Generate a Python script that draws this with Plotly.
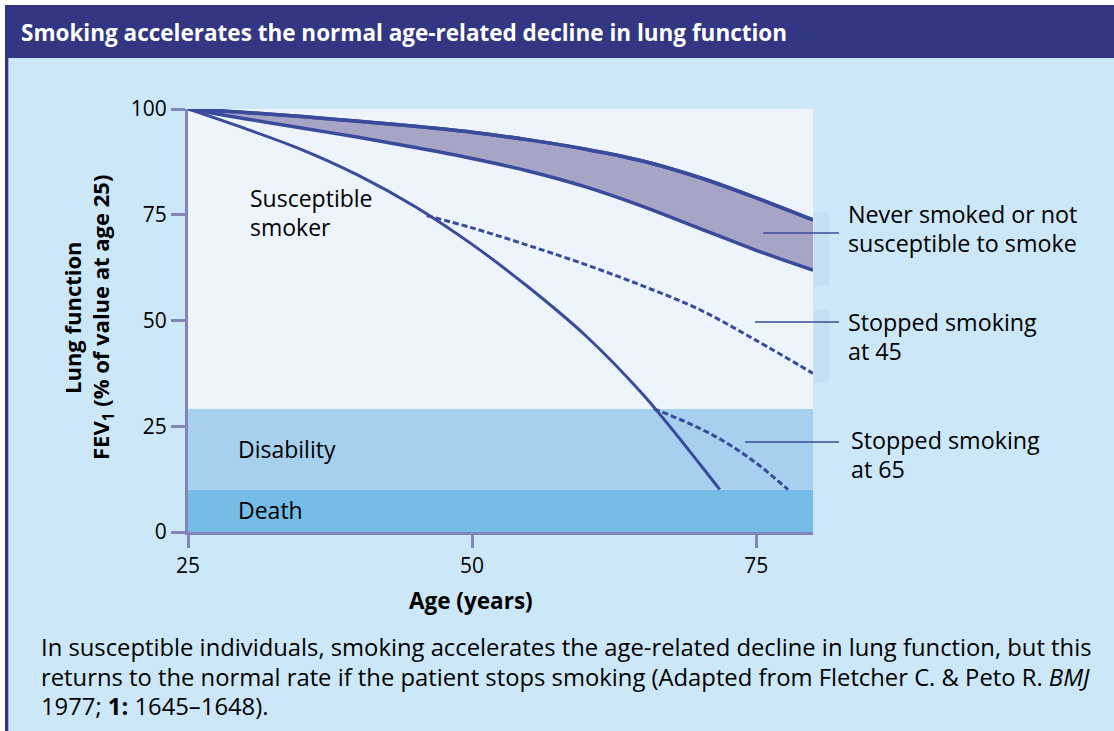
import plotly.graph_objects as go

# ---------------- data ----------------
ages_never = [25, 30, 35, 40, 45, 50, 55, 60, 65, 70, 75, 80]
never_upper = [100, 99.2, 98.2, 97.1, 95.9, 94.5, 92.7, 90.5, 87.7, 83.8, 79.0, 73.8]
never_lower = [100, 97.7, 95.5, 93.3, 90.9, 88.3, 85.3, 81.6, 77.0, 71.8, 66.6, 61.9]

ages_smoker = [25, 30, 35, 40, 45, 50, 55, 60, 65, 70, 71.8]
smoker = [100, 95.4, 90.4, 84.3, 76.9, 68.0, 57.8, 46.4, 32.6, 16.2, 10.0]

ages_stop45 = [46, 50, 55, 60, 65, 70, 75, 80]
stop45 = [74.8, 71.9, 67.7, 63.2, 58.2, 52.6, 45.3, 37.5]

ages_stop65 = [66, 69, 72, 75, 77.8]
stop65 = [29.1, 25.8, 21.7, 16.3, 10.0]

band_edges = [0, 10, 29.1, 100]          # death / disability / normal
band_names = ["Death", "Disability"]

x_ticks = [25, 50, 75]
y_ticks = [0, 25, 50, 75, 100]

title_text = "Smoking accelerates the normal age-related decline in lung function"
caption_lines = [
    "In susceptible individuals, smoking accelerates the age-related decline in lung function, but this",
    "returns to the normal rate if the patient stops smoking (Adapted from Fletcher C. &amp; Peto R. <i>BMJ</i>",
    "1977; <b>1:</b> 1645\u20131648).",
]

# ---------------- style ----------------
W, H = 1114, 731
L, R, T, B = 188, 813, 109, 532   # plot area in px
FONT = "Open Sans"
LINE = "#3b4b9c"
AXIS = "#8385b8"
PANEL = "#cce7f8"
HEADER = "#333683"
PLOTBG = "#eef4fc"
DIS = "#a6d0ee"
DEATH = "#75bce6"
BANDFILL = "#a7a5c6"


def px(xp):
    return (xp - L) / (R - L)


def py(yp):
    return (B - yp) / (B - T)


fig = go.Figure()

# never-smoked band
fig.add_trace(go.Scatter(x=ages_never, y=never_upper, mode="lines",
                         line=dict(color=LINE, width=3.5, shape="spline"), cliponaxis=False,
                         hoverinfo="skip"))
fig.add_trace(go.Scatter(x=ages_never, y=never_lower, mode="lines", fill="tonexty",
                         fillcolor=BANDFILL, line=dict(color=LINE, width=3.5, shape="spline"),
                         cliponaxis=False, hoverinfo="skip"))
fig.add_trace(go.Scatter(x=ages_never, y=never_upper, mode="lines",
                         line=dict(color=LINE, width=3.5, shape="spline"), cliponaxis=False,
                         hoverinfo="skip"))
# susceptible smoker
fig.add_trace(go.Scatter(x=ages_smoker, y=smoker, mode="lines",
                         line=dict(color=LINE, width=3, shape="spline"), cliponaxis=False,
                         hoverinfo="skip"))
# stopped smoking
fig.add_trace(go.Scatter(x=ages_stop45, y=stop45, mode="lines",
                         line=dict(color=LINE, width=3, dash="6px,3px", shape="spline"),
                         hoverinfo="skip"))
fig.add_trace(go.Scatter(x=ages_stop65, y=stop65, mode="lines",
                         line=dict(color=LINE, width=3, dash="6px,3px", shape="spline"),
                         hoverinfo="skip"))

shapes = []
# panel pieces
shapes.append(dict(type="rect", xref="paper", yref="paper", x0=px(0), x1=px(W), y0=py(0), y1=py(5),
                   fillcolor="white", line_width=0, layer="below"))
shapes.append(dict(type="rect", xref="paper", yref="paper", x0=px(0), x1=px(5), y0=py(0), y1=py(H),
                   fillcolor="white", line_width=0, layer="below"))
shapes.append(dict(type="rect", xref="paper", yref="paper", x0=px(5), x1=px(8.3), y0=py(5), y1=py(H),
                   fillcolor=HEADER, line_width=0, layer="below"))
shapes.append(dict(type="rect", xref="paper", yref="paper", x0=px(5), x1=px(W), y0=py(5), y1=py(58),
                   fillcolor=HEADER, line_width=0, layer="below"))
# faint strips beside plot
for y0, y1 in [(212, 286), (310, 383)]:
    shapes.append(dict(type="rect", xref="paper", yref="paper", x0=px(814), x1=px(829),
                       y0=py(y1), y1=py(y0), fillcolor="#c6dff5", line_width=0, layer="below"))
# death / disability bands
band_colors = [DEATH, DIS]
for i in range(2):
    shapes.append(dict(type="rect", xref="x", yref="y", x0=25, x1=80,
                       y0=band_edges[i], y1=band_edges[i + 1],
                       fillcolor=band_colors[i], line_width=0, layer="below"))
# leader lines
for x0, yline in [(763, 233), (755, 322), (745, 442)]:
    shapes.append(dict(type="line", xref="paper", yref="paper", x0=px(x0), x1=px(839),
                       y0=py(yline), y1=py(yline), line=dict(color=LINE, width=1.6)))

ann = []
ann.append(dict(text="<b>" + title_text + "</b>", xref="paper", yref="paper", x=px(19), y=py(32),
                xanchor="left", yanchor="middle", showarrow=False,
                font=dict(family=FONT, size=22.5, color="white")))
# right labels
for txt, xl, yl in [("Never smoked or not", 846, 214), ("susceptible to smoke", 846, 243),
                    ("Stopped smoking", 846, 322), ("at 45", 846, 351),
                    ("Stopped smoking", 849, 440), ("at 65", 849, 469)]:
    ann.append(dict(text=txt, xref="paper", yref="paper", x=px(xl), y=py(yl), xanchor="left",
                    yanchor="middle", showarrow=False, font=dict(family=FONT, size=23.3, color="black")))
# inner labels
for txt, xl, yl in [("Susceptible", 248, 198), ("smoker", 248, 227),
                    (band_names[1], 236, 449), (band_names[0], 236, 510)]:
    ann.append(dict(text=txt, xref="paper", yref="paper", x=px(xl), y=py(yl), xanchor="left",
                    yanchor="middle", showarrow=False, font=dict(family=FONT, size=23, color="black")))
# axis titles
ann.append(dict(text="<b>Lung function</b>", xref="paper", yref="paper", x=px(72), y=py(318),
                xanchor="center", yanchor="middle", textangle=-90, showarrow=False,
                font=dict(family=FONT, size=22, color="black")))
ann.append(dict(text="<b>FEV<sub>1</sub> (% of value at age 25)</b>", xref="paper", yref="paper",
                x=px(102), y=py(318), xanchor="center", yanchor="middle", textangle=-90,
                showarrow=False, font=dict(family=FONT, size=22, color="black")))
ann.append(dict(text="<b>Age (years)</b>", xref="paper", yref="paper", x=px(471), y=py(600),
                xanchor="center", yanchor="middle", showarrow=False,
                font=dict(family=FONT, size=22.5, color="black")))
# caption
for txt, yl in zip(caption_lines, [647, 677, 706]):
    ann.append(dict(text=txt, xref="paper", yref="paper", x=px(39), y=py(yl), xanchor="left",
                    yanchor="middle", showarrow=False, font=dict(family=FONT, size=23.8, color="black")))

fig.update_layout(
    width=W, height=H,
    margin=dict(l=L, r=W - R, t=T, b=H - B, pad=0),
    paper_bgcolor=PANEL, plot_bgcolor=PLOTBG,
    showlegend=False,
    shapes=shapes, annotations=ann,
    font=dict(family=FONT, size=21, color="black"),
)
fig.update_xaxes(range=[25, 80], tickvals=x_ticks, showgrid=False, zeroline=False,
                 showline=True, linecolor=AXIS, linewidth=3, ticks="outside", ticklen=13,
                 tickwidth=3, tickcolor=AXIS, tickfont=dict(family=FONT, size=21, color="black"))
fig.update_yaxes(range=[0, 100], tickvals=y_ticks, showgrid=False, zeroline=False,
                 showline=True, linecolor=AXIS, linewidth=3, ticks="outside", ticklen=14,
                 tickwidth=3, tickcolor=AXIS, tickfont=dict(family=FONT, size=21, color="black"))

fig.write_html("out.html", config={"displayModeBar": False},
               post_script="document.body.style.margin='0px';")
